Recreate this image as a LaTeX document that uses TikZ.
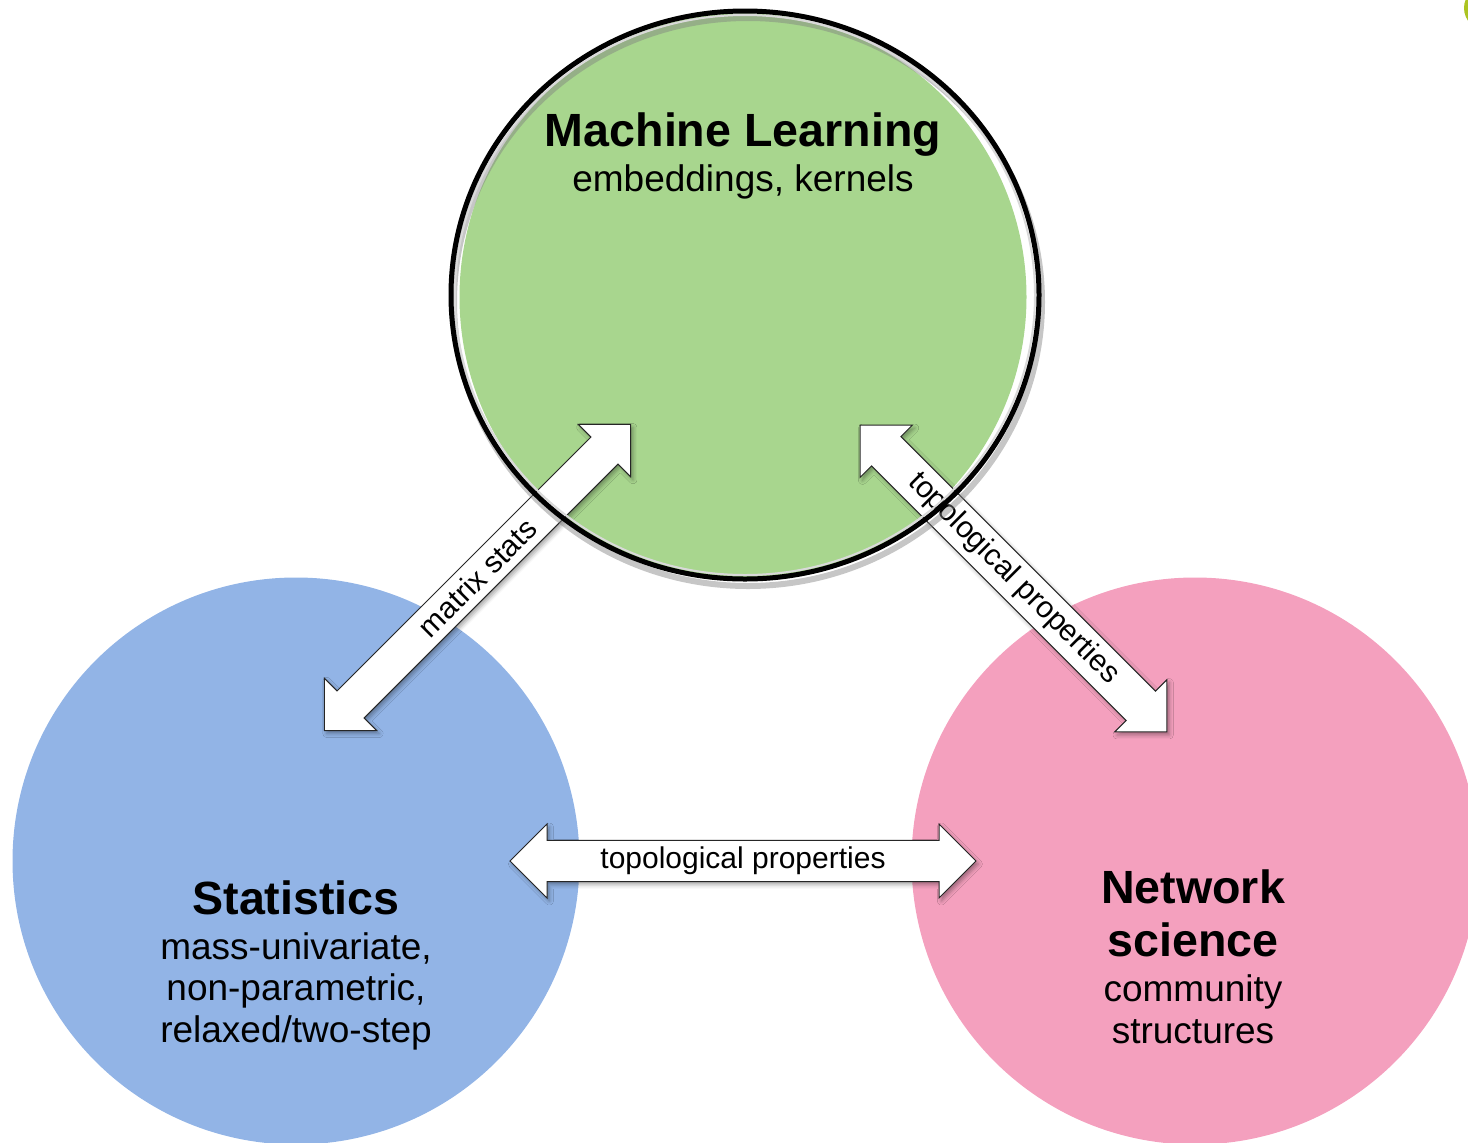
\documentclass[tikz,border=0pt]{standalone}
\usepackage{fontspec}
\setmainfont{Liberation Sans}
\usetikzlibrary{shapes.arrows, shadows.blur}

\definecolor{mlgreen}{RGB}{168,214,142}
\definecolor{statblue}{RGB}{146,180,230}
\definecolor{netpink}{RGB}{244,160,190}
\definecolor{cornergreen}{RGB}{172,196,34}

\newcommand\fieldname[1]{{\fontsize{23.3}{26}\selectfont\bfseries #1}}

\begin{document}
\begin{tikzpicture}[x=0.5pt, y=-0.5pt,
  field/.style = {circle, inner sep=0pt, minimum size=283.5pt},
  blurb/.style = {align=center, anchor=north, inner sep=0pt, font=\fontsize{18.5}{20.7}\selectfont},
  link/.style = {double arrow, draw=black!85, line width=0.5pt, fill=white,
    double arrow head extend=7.25pt, double arrow tip angle=90, minimum width=37pt,
    inner sep=2pt, font=\fontsize{15}{17}\selectfont,
    blur shadow={shadow xshift=1.2pt, shadow yshift=-1.5pt, shadow blur radius=2pt, shadow opacity=35}}]
\useasboundingbox (0,0) rectangle (1468,1142);

% the three fields
\begin{scope}
\clip (0,0) rectangle (1468,1142);
\node[field, fill=mlgreen] (ml) at (743,297) {};
\node[field, fill=statblue] (stat) at (296,861) {};
\node[field, fill=netpink] (net) at (1195,861) {};
\node[circle, inner sep=0pt, fill=cornergreen, minimum size=22pt] (corner) at (1486,8) {};
\end{scope}

% links between the fields
\node[link, minimum height=216.5pt, rotate=45] (mstats) at (477.5,577.5) {matrix stats};
\node[link, minimum height=217pt, rotate=-45] (topml) at (1013.5,578.5) {topological properties};
\node[link, minimum height=233pt] (topstat) at (743,861) {topological properties};

% lens ring round machine learning
\draw[black!50, line width=3pt, opacity=.45] ([shift={(5,5)}]ml.center) ellipse [x radius=294, y radius=284];
\draw[white!85!black, line width=1pt] ([shift={(2,-2)}]ml.center) ellipse [x radius=290, y radius=280];
\draw[line width=2.5pt] ([shift={(2,-2)}]ml.center) ellipse [x radius=294, y radius=284];

% field texts
\node[blurb] (mltext) at (743,112) {\fieldname{Machine Learning}\\[2pt] embeddings, kernels};
\node[blurb] (stattext) at (296,880) {\fieldname{Statistics}\\[2pt] mass-univariate,\\ non-parametric,\\ relaxed/two-step};
\node[blurb] (nettext) at (1193,869) {\fieldname{Network}\\[6pt] \fieldname{science}\\[2pt] community\\ structures};
\end{tikzpicture}
\end{document}
